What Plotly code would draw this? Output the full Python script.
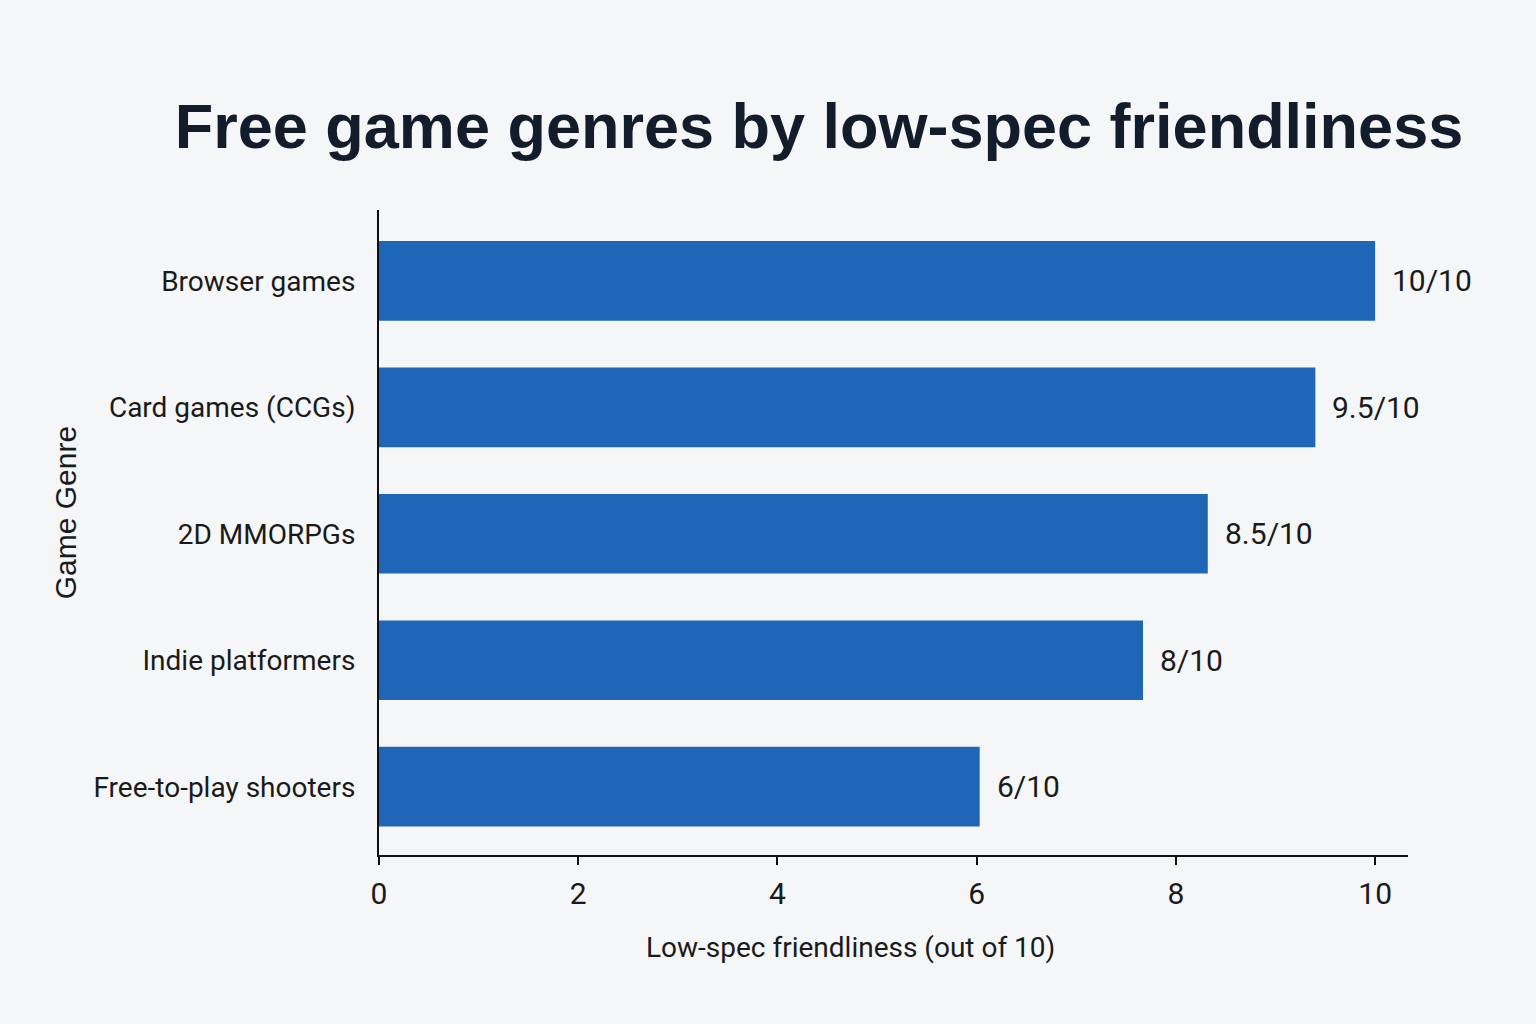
import plotly.graph_objects as go

genres = ["Browser games", "Card games (CCGs)", "2D MMORPGs", "Indie platformers", "Free-to-play shooters"]
scores = [10.0, 9.4, 8.32, 7.67, 6.03]
score_labels = ["10/10", "9.5/10", "8.5/10", "8/10", "6/10"]
x_ticks = [0, 2, 4, 6, 8, 10]

COND = "Roboto, Liberation Sans Narrow, Arial Narrow, sans-serif"
BG = "#f5f6f8"
BAR = "#1f66b6"
TXT = "#1a1a1a"

fig = go.Figure()
fig.add_trace(go.Bar(
    x=scores, y=genres, orientation="h",
    marker=dict(color=BAR, line=dict(width=0)),
    width=0.63,
    hoverinfo="skip",
))

for g, s, lab in zip(genres, scores, score_labels):
    fig.add_annotation(x=s, y=g, text=lab, showarrow=False, xanchor="left",
                       xshift=15, font=dict(family=COND, size=30, color=TXT))

fig.add_annotation(xref="paper", yref="paper", x=0.458, y=-0.144,
                   text="Low-spec friendliness (out of 10)", showarrow=False,
                   font=dict(family=COND, size=28, color=TXT), xanchor="center", yanchor="middle")
fig.add_annotation(xref="paper", yref="paper", x=-0.305, y=0.53, textangle=-90,
                   text="Game Genre", showarrow=False,
                   font=dict(family="Liberation Sans, Arial, sans-serif", size=30, color=TXT),
                   xanchor="center", yanchor="middle")

fig.update_layout(
    width=1536, height=1024,
    paper_bgcolor=BG, plot_bgcolor=BG,
    margin=dict(l=379, r=128, t=210, b=169),
    showlegend=False,
    title=dict(text="<b>Free game genres by low-spec friendliness</b>",
               x=819 / 1536, xanchor="center", xref="container",
               y=1 - 126 / 1024, yanchor="middle", yref="container",
               font=dict(family="Liberation Sans, Arial, sans-serif", size=63, color="#131c2b")),
    xaxis=dict(range=[0, 10.33], tickvals=x_ticks, showgrid=False, zeroline=False,
               showline=True, linecolor="#111111", linewidth=2,
               ticks="outside", ticklen=8, tickcolor="#111111", tickwidth=2,
               ticklabelstandoff=3,
               tickfont=dict(family=COND, size=30, color=TXT)),
    yaxis=dict(categoryorder="array", categoryarray=genres, range=[4.54, -0.56],
               showgrid=False, zeroline=False, showline=True, linecolor="#111111", linewidth=2,
               ticks="", ticklabelstandoff=16,
               tickfont=dict(family=COND, size=28, color=TXT)),
)

fig.write_html("out.html")
